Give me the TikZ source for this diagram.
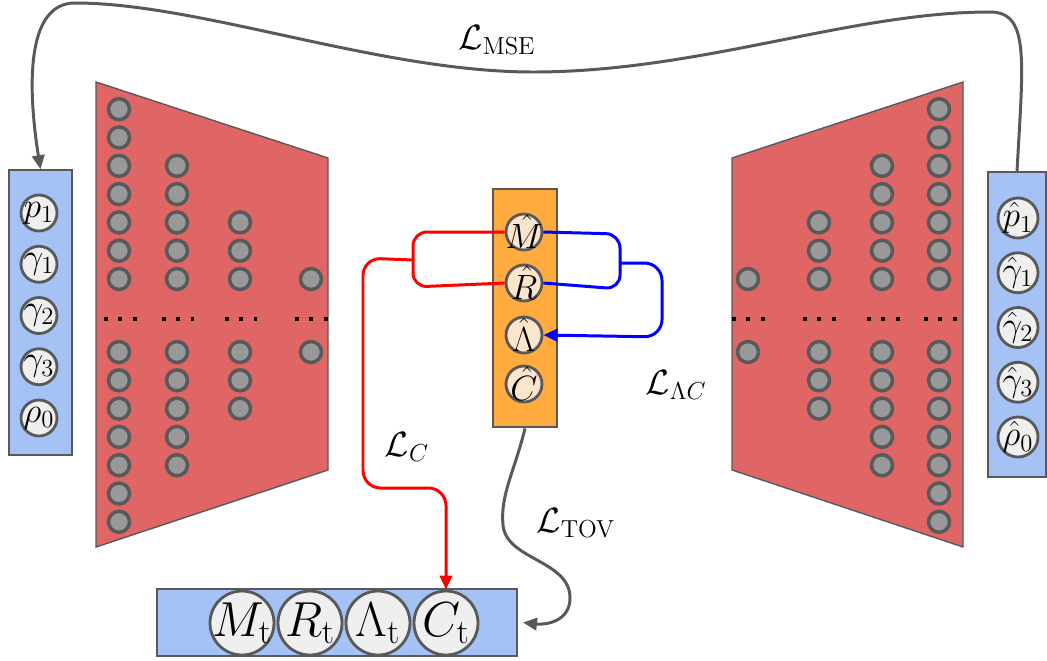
\documentclass[tikz,border=0pt]{standalone}
\usepackage{fix-cm}
\usepackage{amsmath}
\usepackage{amssymb}
\usepackage{tikz}
\usetikzlibrary{arrows.meta, positioning, calc}
\usepackage{xcolor}
\definecolor{netred}{HTML}{E06666}
\definecolor{pblue}{HTML}{A4C2F4}
\definecolor{porange}{HTML}{FFAB40}
\definecolor{peach}{HTML}{FCE5CD}
\definecolor{nfill}{HTML}{999999}
\definecolor{lgray}{HTML}{595959}
\definecolor{cfill}{HTML}{EFEFEF}
\newcommand{\cv}[1]{\makebox[0pt]{$#1$}}

\begin{document}
\begin{tikzpicture}[x=0.02cm, y=-0.02cm,
  panel/.style={rectangle, draw=lgray, line width=0.8pt, inner sep=0pt},
  var/.style={circle, draw=lgray, line width=1.6pt, fill=cfill, inner sep=0pt,
              minimum size=0.72cm, font=\fontsize{20}{23}\selectfont},
  bigvar/.style={var, minimum size=1.28cm, font=\fontsize{28}{31}\selectfont},
  neuron/.style={draw=lgray, line width=2pt, fill=nfill},
  dots/.style={line width=2.3pt, dash pattern=on 2.3pt off 5.9pt},
  loss/.style={font=\fontsize{20}{24}\selectfont},
  conn/.style={line width=1.7pt, draw=lgray},
  redl/.style={line width=1.7pt, draw=red},
  bluel/.style={line width=1.7pt, draw=blue},
  tip/.style={-{Triangle[length=8pt,width=7pt]}}
]
  \useasboundingbox (0,0) rectangle (1047,660);

  \filldraw[fill=netred, draw=lgray, line width=0.8pt]
    (96,82) -- (328,158) -- (328,470) -- (96,547) -- cycle;
  \filldraw[fill=netred, draw=lgray, line width=0.8pt]
    (963,82) -- (732,158) -- (732,470) -- (963,547) -- cycle;

  \foreach \x/\m in {119/7,177/5,240/3,311/1,748/1,819/3,882/5,939/7}
    \foreach \k in {1,...,\m} {
      \draw[neuron] (\x,{279-28.3*(\k-1)}) circle (0.21cm);
      \draw[neuron] (\x,{352+28.3*(\k-1)}) circle (0.21cm);
    }
  \foreach \a/\b in {104/137,162/194,225/257,295/328,732/765,803/836,867/900,924/957}
    \draw[dots] (\a,319) -- (\b,319);

  \node[panel, fill=pblue, minimum width=1.26cm, minimum height=5.7cm] (inp) at (40.5,312.5) {};
  \foreach \lab [count=\i] in {p_1,\gamma_1,\gamma_2,\gamma_3,\rho_0}
    \node[var] (in\i) at (39,{213+51.25*(\i-1)}) {\cv{\lab}};

  \node[panel, fill=pblue, minimum width=1.16cm, minimum height=6.1cm] (outp) at (1017,324.5) {};
  \foreach \lab [count=\i] in {\hat{p}_1,\hat{\gamma}_1,\hat{\gamma}_2,\hat{\gamma}_3,\hat{\rho}_0}
    \node[var, minimum size=0.8cm] (out\i) at (1018,{218+54.75*(\i-1)}) {\cv{\lab}};

  \node[panel, fill=porange, line width=1.6pt, minimum width=1.28cm, minimum height=4.76cm] (orng) at (525,308) {};
  \node[var, fill=peach] (mh) at (524,232) {\cv{\hat{M}}};
  \node[var, fill=peach] (rh) at (524,283) {\cv{\hat{R}}};
  \node[var, fill=peach] (lh) at (524,335) {\cv{\hat{\Lambda}}};
  \node[var, fill=peach] (chh) at (524,384) {\cv{\hat{C}}};

  \node[panel, fill=pblue, minimum width=7.2cm, minimum height=1.34cm] (bot) at (337,622.5) {};
  \node[bigvar] (mt) at (242,623) {\cv{M_{\mathrm{t}}}};
  \node[bigvar] (rt) at (310,623) {\cv{R_{\mathrm{t}}}};
  \node[bigvar] (lt) at (378,623) {\cv{\Lambda_{\mathrm{t}}}};
  \node[bigvar] (ct) at (446,623) {\cv{C_{\mathrm{t}}}};

  \coordinate (cj) at (413,260);
  \coordinate (cb) at (446,488);
  \draw[redl, rounded corners=8pt] (mh.west) -- (413,232) -- (413,287) -- (rh.west);
  \draw[redl, tip, rounded corners=10pt] (cj) -- (363,258) -- (363,488) -- (cb) -- (ct.north);

  \coordinate (bj) at (620,263);
  \draw[bluel, rounded corners=8pt] (mh.east) -- (620,234) -- (620,289) -- (rh.east);
  \draw[bluel, tip, rounded corners=10pt] (bj) -- (662,263) -- (662,337) -- (lh.east);

  \draw[conn, tip] (orng.south) .. controls (515,470) and (500,495) .. (503,525)
    .. controls (506,560) and (570,560) .. (570,598)
    .. controls (570,622) and (545,625) .. ([xshift=3pt]bot.east);

  \draw[conn, tip] (outp.north) .. controls (1023,60) and (1030,12) .. (990,12)
    .. controls (850,12) and (700,72) .. (533,72)
    .. controls (380,72) and (200,3) .. (75,3)
    .. controls (25,3) and (28,90) .. (inp.north);

  \node[loss] (lmse) at (497,40) {$\mathcal{L}_{\mathrm{MSE}}$};
  \node[loss] (lc) at (407,447) {$\mathcal{L}_{C}$};
  \node[loss] (llc) at (676,385) {$\mathcal{L}_{\Lambda C}$};
  \node[loss] (ltov) at (576,523) {$\mathcal{L}_{\mathrm{TOV}}$};
\end{tikzpicture}
\end{document}
